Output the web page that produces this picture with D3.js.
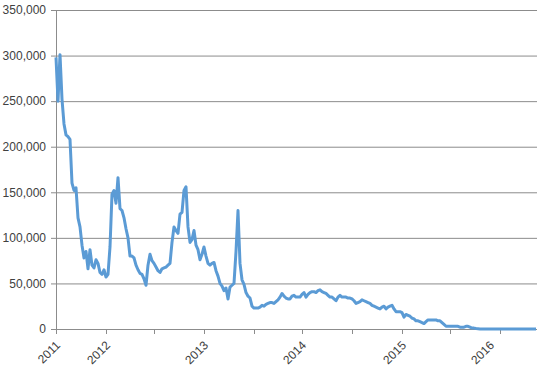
<!DOCTYPE html>
<html>
<head>
<meta charset="utf-8">
<script src="https://cdn.jsdelivr.net/npm/d3@7"></script>
<style>
  body { margin: 0; background: #fff; }
  text { font-family: "Liberation Sans", Arial, sans-serif; font-size: 12px; fill: #404040; }
</style>
</head>
<body>
<div id="chart"></div>
<script>
// values in thousands, one per sample along the category axis
var values = [
  298,250,301,252,225,213,211,208,160,152,
  155,122,112,92,78,85,66,87,70,67,
  76,72,62,60,65,57,60,90,148,152,
  138,166,132,130,122,110,100,80,80,78,
  70,65,61,60,55,48,70,82,75,72,
  68,64,62,66,67,68,70,72,95,112,
  108,105,126,128,152,156,112,95,98,108,
  92,87,76,82,90,80,72,70,72,73,
  64,58,50,47,42,45,33,46,48,50,
  85,130,72,54,49,40,36,34,25,23,
  23,23,24,26,25,27,28,29,29,28,
  30,32,35,39,36,34,33,33,36,37,
  35,35,35,38,40,35,38,40,41,41,
  40,42,43,41,40,39,37,35,35,33,
  31,35,37,35,35,35,34,34,33,31,
  28,29,30,32,31,30,29,28,26,25,
  24,23,22,24,25,22,24,25,26,22,
  19,19,19,18,13,16,15,14,12,11,
  9,9,8,7,6,8,10,10,10,10,
  10,9,9,7,5,3,3,3,3,3,
  3,3,2,2,2,3,3,2,1,1,
  0.5,0.3,0,0,0,0,0,0,0,0,
  0,0,0,0,0,0,0,0,0,0,
  0,0,0,0,0,0,0,0,0,0,0
];
var tickIdx = [0, 25, 49, 74, 99, 123, 148, 173, 197, 222];
var yearLabels = ["2011", "2012", "2013", "2014", "2015", "2016"];
var yearIdx = [0, 25, 74, 123, 173, 217];
var yTicks = [0, 50000, 100000, 150000, 200000, 250000, 300000, 350000];

var margin = {top: 10, right: 6, bottom: 42, left: 56},
    width = 543 - margin.left - margin.right,
    height = 371 - margin.top - margin.bottom;

var svg = d3.select("#chart").append("svg")
    .attr("width", 543)
    .attr("height", 371)
  .append("g")
    .attr("transform", "translate(" + margin.left + "," + margin.top + ")");

var x = d3.scaleLinear().domain([0, values.length - 1]).range([0, width - 1]);
var y = d3.scaleLinear().domain([0, 350000]).range([height, 0]);

// gridlines + left ticks
var yAxis = svg.append("g")
  .call(d3.axisLeft(y).tickValues(yTicks).tickSize(-width).tickSizeOuter(0)
        .tickFormat(d3.format(",")));
yAxis.select(".domain").remove();
yAxis.selectAll(".tick line").attr("stroke", "#8c8c8c").attr("x1", -5).attr("x2", width);
yAxis.selectAll(".tick text").attr("x", -10).style("font-size", "12px")
  .attr("fill", "#404040");

// vertical axis line
svg.append("line")
  .attr("x1", 0.5).attr("x2", 0.5)
  .attr("y1", 0).attr("y2", height)
  .attr("stroke", "#8c8c8c");

// bottom ticks
var xAxis = svg.append("g")
  .attr("transform", "translate(0," + height + ")")
  .call(d3.axisBottom(x).tickValues(tickIdx).tickSize(5).tickSizeOuter(0).tickFormat(""));
xAxis.select(".domain").attr("stroke", "#8c8c8c");
xAxis.selectAll(".tick line").attr("stroke", "#8c8c8c");

// year labels
svg.append("g").selectAll("text")
  .data(yearLabels)
  .join("text")
    .attr("text-anchor", "end")
    .attr("transform", function(d, i) {
      return "translate(" + (x(yearIdx[i]) + 5) + "," + (height + 17) + ") rotate(-45)";
    })
    .text(function(d) { return d; });

// series
var line = d3.line()
  .x(function(d, i) { return x(i); })
  .y(function(d) { return y(d * 1000); });

svg.append("path")
  .datum(values)
  .attr("fill", "none")
  .attr("stroke", "#5b9bd5")
  .attr("stroke-width", 3)
  .attr("stroke-linejoin", "round")
  .attr("d", line);
</script>
</body>
</html>
